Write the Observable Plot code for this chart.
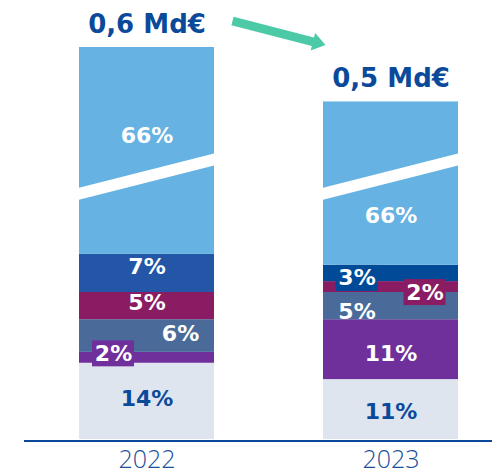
<!DOCTYPE html>
<html>
<head>
<meta charset="utf-8">
<script src="https://cdn.jsdelivr.net/npm/d3@7"></script>
<script src="https://cdn.jsdelivr.net/npm/@observablehq/plot@0.6"></script>
<style>
  html, body { margin: 0; padding: 0; background: #fff; }
</style>
</head>
<body>
<div id="chart"></div>
<script>
// ---- data ----
const years = ["2022", "2023"];
const totalLabels = ["0,6 Md€", "0,5 Md€"];
const segments = ["Segment 1", "Segment 2", "Segment 3", "Segment 4", "Segment 5", "Segment 6"];
const shares2022 = [14, 2, 6, 5, 7, 66];
const shares2023 = [11, 11, 5, 2, 3, 66];
// visible (truncated) height of the top 66 % segment, because of the axis break
const brokenShown = [38, 30];

// ---- styles ----
const colors2022 = ["#dee5ef", "#70309b", "#4a6b9a", "#8a1c64", "#2356a6", "#66b2e3"];
const colors2023 = ["#dee5ef", "#70309b", "#4a6b9a", "#8a1c64", "#004a98", "#66b2e3"];
const navy = "#0b4a9b";
const labelTweaks = {
  "2022|0": {dy: -2}, "2022|1": {dx: -33.5, dy: -4, box: true}, "2022|2": {dx: 33.5, dy: -2.5},
  "2022|3": {dy: -3}, "2022|4": {dy: -6}, "2022|5": {dy: -14.5},
  "2023|0": {dy: 2}, "2023|1": {dy: 4.5}, "2023|2": {dx: -34, dy: 5.5},
  "2023|3": {dx: 34, dy: 5.5, box: true}, "2023|4": {dx: -34, dy: 5, box: true}, "2023|5": {dy: 32}
};
const breakAt = {left: 45.0, right: 51.4, half: 6};
const labelFont = "DejaVu Sans";

// ---- table ----
const shares = [shares2022, shares2023];
const colors = [colors2022, colors2023];
const rows = [];
years.forEach((year, yi) => {
  let acc = 0;
  shares[yi].forEach((v, si) => {
    const shown = si === segments.length - 1 ? brokenShown[yi] : v;
    const t = labelTweaks[year + "|" + si] || {};
    rows.push({
      year, segment: segments[si], value: v, y1: acc, y2: acc + shown,
      color: colors[yi][si], label: v + "%",
      textFill: si === 0 ? navy : "#ffffff",
      dx: t.dx || 0, dy: t.dy || 0, box: !!t.box, broken: si === segments.length - 1
    });
    acc += shown;
  });
});
const tops = years.map(year => ({year, top: d3.max(rows.filter(r => r.year === year), r => r.y2), label: totalLabels[years.indexOf(year)]}));

function bw(sx) {
  return typeof sx.bandwidth === "function" ? sx.bandwidth() : (sx.bandwidth || 0);
}

// break band across each top segment
function breakMark(index, scales) {
  const sx = scales.x, sy = scales.y;
  const g = d3.create("svg:g");
  rows.filter(r => r.broken).forEach(r => {
    const x0 = sx(r.year) - 1, x1 = sx(r.year) + bw(sx) + 1;
    const yl = sy(breakAt.left), yr = sy(breakAt.right), h = breakAt.half;
    g.append("polygon")
      .attr("points", [[x0, yl - h], [x1, yr - h], [x1, yr + h], [x0, yl + h]].map(p => p.join(",")).join(" "))
      .attr("fill", "#ffffff");
  });
  return g.node();
}

// boxes behind some labels
function boxMark(index, scales) {
  const sx = scales.x, sy = scales.y;
  const g = d3.create("svg:g");
  rows.filter(r => r.box).forEach(r => {
    const cx = sx(r.year) + bw(sx) / 2 + r.dx;
    const cy = sy((r.y1 + r.y2) / 2) + r.dy;
    g.append("rect").attr("x", cx - 21).attr("y", cy - 13).attr("width", 42).attr("height", 26).attr("fill", r.color);
  });
  return g.node();
}

// green arrow between the two totals
function arrowMark(index, scales) {
  const sx = scales.x, sy = scales.y;
  const c0 = sx(years[0]) + bw(sx) / 2, c1 = sx(years[1]) + bw(sx) / 2;
  const tail = [c0 + 86, sy(tops[0].top) - 26];
  const tip = [c1 - 65, sy(tops[1].top) - 56.5];
  const dxv = tip[0] - tail[0], dyv = tip[1] - tail[1], len = Math.hypot(dxv, dyv);
  const u = [dxv / len, dyv / len], n = [-u[1], u[0]];
  const sw = 4.4, hw = 9, hl = 13;
  const neck = [tip[0] - u[0] * hl, tip[1] - u[1] * hl];
  const P = (p, k) => [p[0] + n[0] * k, p[1] + n[1] * k];
  const pts = [P(tail, -sw), P(neck, -sw), P(neck, -hw), tip, P(neck, hw), P(neck, sw), P(tail, sw)];
  const g = d3.create("svg:g");
  g.append("polygon").attr("points", pts.map(p => p.join(",")).join(" ")).attr("fill", "#4ccaa7");
  return g.node();
}

const marks = [
  Plot.barY(rows, {x: "year", y1: "y1", y2: "y2", fill: "color"}),
  breakMark,
  Plot.ruleY([0], {stroke: navy, strokeWidth: 2, dy: 1.5}),
  boxMark
];
rows.forEach(r => {
  marks.push(Plot.text([r], {
    x: "year", y: d => (d.y1 + d.y2) / 2, text: "label",
    dx: r.dx, dy: r.dy, fill: r.textFill,
    fontSize: 22, fontWeight: "bold", fontFamily: labelFont,
    textAnchor: "middle", lineAnchor: "middle"
  }));
});
marks.push(Plot.text(tops, {
  x: "year", y: "top", text: "label", dy: -23,
  fill: navy, fontSize: 26, fontWeight: "bold", fontFamily: labelFont,
  textAnchor: "middle", lineAnchor: "middle"
}));
marks.push(arrowMark);

const chart = Plot.plot({
  width: 492,
  height: 476,
  marginLeft: 24,
  marginRight: 0,
  marginTop: 0,
  marginBottom: 37,
  style: {fontFamily: "Open Sans", fontSize: "25px", fontWeight: 300, color: "#1b4f9c", background: "#fff"},
  x: {type: "band", domain: years, range: [79, 459], paddingInner: 0.446, paddingOuter: 0, tickSize: 0, tickPadding: 11, label: null},
  y: {domain: [0, 72], range: [439, 47], axis: null},
  color: {type: "identity"},
  marks
});
document.getElementById("chart").appendChild(chart);
</script>
</body>
</html>
